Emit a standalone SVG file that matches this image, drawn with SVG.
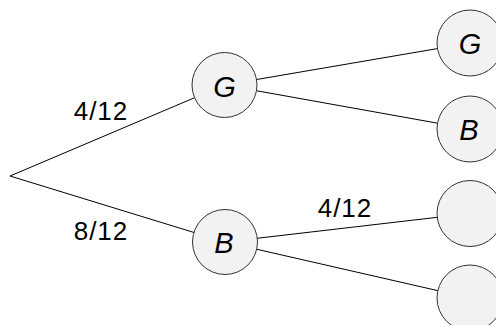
<svg xmlns="http://www.w3.org/2000/svg" width="496" height="325" viewBox="0 0 496 325">
  <style>
    .edge { stroke: #000; stroke-width: 1; fill: none; }
    .node circle { fill: #f2f2f2; stroke: #333; stroke-width: 1; }
    .node text { font-family: "Liberation Sans", Arial, sans-serif; font-style: italic; font-size: 29px; fill: #000; text-anchor: middle; }
    .lbl { font-family: "Liberation Sans", Arial, sans-serif; font-size: 26px; fill: #000; text-anchor: middle; letter-spacing: 1px; }
  </style>
  <rect width="496" height="325" fill="#fff"/>
  <g id="connectors">
    <line class="edge" x1="10" y1="176" x2="224.5" y2="85"/>
    <line class="edge" x1="10" y1="176" x2="225" y2="242"/>
    <line class="edge" x1="224.5" y1="85" x2="470" y2="43"/>
    <line class="edge" x1="224.5" y1="85" x2="470" y2="129"/>
    <line class="edge" x1="225" y1="242" x2="470" y2="213.5"/>
    <line class="edge" x1="225" y1="242" x2="470" y2="298"/>
  </g>
  <g id="labels">
    <text class="lbl" x="101" y="120">4/12</text>
    <text class="lbl" x="101" y="240">8/12</text>
    <text class="lbl" x="345" y="217">4/12</text>
  </g>
  <g id="node-g1" class="node">
    <circle cx="224.5" cy="85" r="32.5"/>
    <text x="224.5" y="97">G</text>
  </g>
  <g id="node-b1" class="node">
    <circle cx="225" cy="242" r="32.5"/>
    <text x="224" y="253">B</text>
  </g>
  <g id="node-gg" class="node">
    <circle cx="470" cy="43" r="33"/>
    <text x="470" y="54">G</text>
  </g>
  <g id="node-gb" class="node">
    <circle cx="470" cy="129" r="33"/>
    <text x="469" y="140">B</text>
  </g>
  <g id="node-b3" class="node">
    <circle cx="470" cy="213.5" r="33"/>
  </g>
  <g id="node-b4" class="node">
    <circle cx="470" cy="298" r="33"/>
  </g>
</svg>
